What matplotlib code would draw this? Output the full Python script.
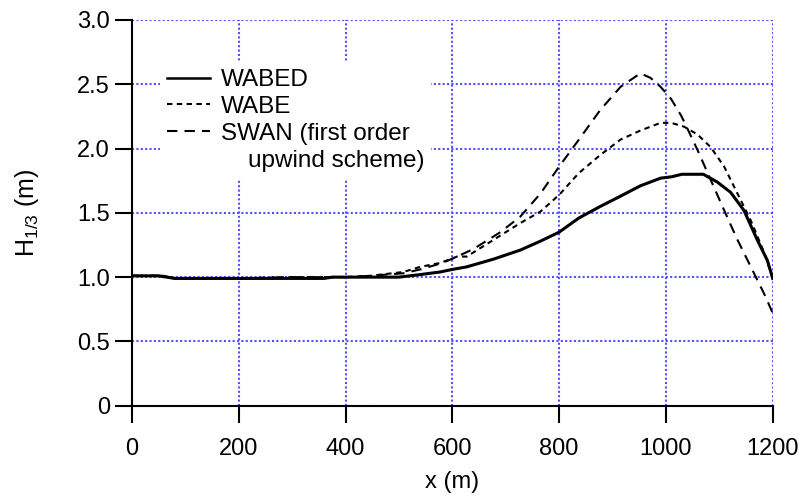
import matplotlib
matplotlib.use('Agg')
import matplotlib.pyplot as plt
from matplotlib.lines import Line2D

plt.rcParams['font.family'] = ['Liberation Sans', 'DejaVu Sans']
plt.rcParams['mathtext.default'] = 'regular'

# WABED (solid)
x_wabed = [0, 50, 65, 80, 200, 360, 375, 400, 500, 540, 577, 600, 627, 677, 727,
           765, 800, 837, 877, 915, 952, 990, 1010, 1030, 1070, 1096, 1121, 1146,
           1171, 1190, 1200]
h_wabed = [1.01, 1.01, 1.0, 0.99, 0.99, 0.99, 1.0, 1.0, 1.0, 1.02, 1.04, 1.06, 1.08,
           1.14, 1.21, 1.28, 1.35, 1.46, 1.55, 1.63, 1.71, 1.77, 1.78, 1.80, 1.80,
           1.74, 1.66, 1.52, 1.29, 1.13, 0.99]

# WABE (dotted)
x_wabe = [0, 60, 80, 200, 300, 400, 446, 508, 540, 577, 609, 627, 677, 727, 765,
          800, 837, 877, 915, 952, 990, 1010, 1034, 1059, 1084, 1109, 1134, 1159,
          1184, 1200]
h_wabe = [1.01, 1.01, 0.99, 0.99, 1.0, 1.0, 1.01, 1.04, 1.08, 1.11, 1.16, 1.16, 1.29,
          1.42, 1.51, 1.64, 1.81, 1.95, 2.07, 2.14, 2.20, 2.20, 2.17, 2.11, 2.01,
          1.86, 1.65, 1.44, 1.19, 0.99]

# SWAN (dashed)
x_swan = [0, 60, 80, 200, 300, 400, 446, 508, 540, 581, 609, 640, 690, 727, 765,
          800, 837, 877, 915, 952, 971, 990, 1009, 1028, 1034, 1059, 1084, 1109,
          1134, 1159, 1184, 1200]
h_swan = [1.01, 1.01, 0.99, 0.99, 1.0, 1.0, 1.01, 1.03, 1.06, 1.11, 1.16, 1.22, 1.35,
          1.47, 1.65, 1.86, 2.07, 2.30, 2.48, 2.585, 2.55, 2.48, 2.39, 2.26, 2.21,
          1.99, 1.755, 1.52, 1.29, 1.08, 0.87, 0.72]

x_ticks = [0, 200, 400, 600, 800, 1000, 1200]
y_ticks = [0, 0.5, 1.0, 1.5, 2.0, 2.5, 3.0]
y_ticklabels = ['0', '0.5', '1.0', '1.5', '2.0', '2.5', '3.0']

fig = plt.figure(figsize=(8.04, 5.01), dpi=100)
ax = fig.add_axes([0.1642, 0.1902, 0.7969, 0.7699])

ax.plot(x_wabed, h_wabed, color='black', lw=2.2, solid_joinstyle='round')
ax.plot(x_wabe, h_wabe, color='black', lw=1.5, linestyle=(0, (2.6, 2.1)))
ax.plot(x_swan, h_swan, color='black', lw=1.5, linestyle=(0, (5.0, 3.4)))

ax.set_xlim(0, 1200)
ax.set_ylim(0, 3.0)
ax.set_xticks(x_ticks)
ax.set_yticks(y_ticks)
ax.set_yticklabels(y_ticklabels)

ax.grid(True, color='#5050ff', lw=1.5, linestyle=(0, (1, 1.1)))
ax.set_axisbelow(True)

for s in ['top', 'right']:
    ax.spines[s].set_visible(False)
for s in ['left', 'bottom']:
    ax.spines[s].set_linewidth(1.5)
ax.tick_params(direction='out', length=12, width=1.5, labelsize=17)
ax.tick_params(axis='x', pad=11)
ax.tick_params(axis='y', pad=4)

ax.set_xlabel('x (m)', fontsize=17, labelpad=8)
ax.set_ylabel('H$_{1/3}$ (m)', fontsize=18, labelpad=26)

handles = [
    Line2D([], [], color='black', lw=1.8),
    Line2D([], [], color='black', lw=1.5, linestyle=(0, (2.6, 2.1))),
    Line2D([], [], color='black', lw=1.5, linestyle=(0, (5.0, 3.4))),
    Line2D([], [], color='none'),
]
labels = ['WABED', 'WABE', 'SWAN (first order', '    upwind scheme)']
leg = ax.legend(handles, labels, loc='upper left', bbox_to_anchor=(0.0437, 0.891),
                borderaxespad=0, borderpad=0.29, fontsize=17.5, handlelength=1.77,
                handletextpad=0.44, labelspacing=0.2, frameon=True, fancybox=False)
leg.get_frame().set_facecolor('white')
leg.get_frame().set_edgecolor('none')
leg.get_frame().set_alpha(1)

fig.savefig('out.png', dpi=100)
